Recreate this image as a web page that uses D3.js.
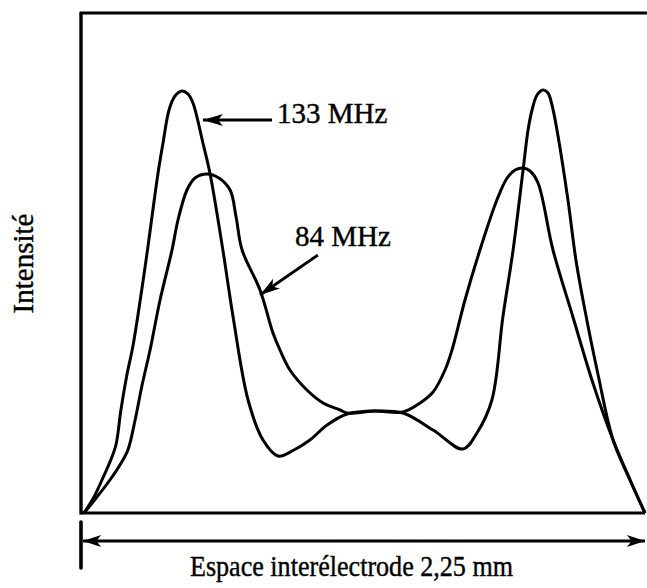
<!DOCTYPE html>
<html>
<head>
<meta charset="utf-8">
<script src="https://cdn.jsdelivr.net/npm/d3@7"></script>
<style>
  html, body { margin: 0; padding: 0; background: #fff; }
  svg { display: block; }
  text { font-family: "Liberation Serif", "Times New Roman", serif; fill: #000; }
</style>
</head>
<body>
<svg id="chart" width="647" height="588"></svg>
<script>
// Position across the gap (mm) and relative intensity for each drive frequency
const pos133 = [0, 0.040, 0.072, 0.104, 0.128, 0.148, 0.172, 0.197, 0.245, 0.297, 0.317, 0.341, 0.365,
  0.393, 0.417, 0.437, 0.477, 0.505, 0.557, 0.598, 0.658, 0.718, 0.778, 0.842, 0.906, 0.975, 1.055,
  1.167, 1.279, 1.400, 1.520, 1.576, 1.636, 1.680, 1.721, 1.761, 1.781, 1.797, 1.817, 1.841, 1.861,
  1.877, 1.897, 1.941, 1.973, 2.009, 2.062, 2.122, 2.190, 2.25];
const int133 = [0, 0.032, 0.066, 0.102, 0.136, 0.206, 0.276, 0.336, 0.492, 0.680, 0.740, 0.806, 0.834,
  0.844, 0.838, 0.820, 0.740, 0.680, 0.526, 0.392, 0.226, 0.146, 0.114, 0.126, 0.146, 0.176, 0.198,
  0.204, 0.200, 0.166, 0.128, 0.160, 0.226, 0.392, 0.526, 0.686, 0.766, 0.806, 0.836, 0.846, 0.840,
  0.816, 0.766, 0.626, 0.506, 0.406, 0.276, 0.146, 0.066, 0];

const pos84 = [0, 0.052, 0.104, 0.144, 0.176, 0.205, 0.233, 0.265, 0.305, 0.353, 0.377, 0.413, 0.445,
  0.493, 0.541, 0.586, 0.610, 0.634, 0.706, 0.758, 0.786, 0.826, 0.894, 0.959, 1.027, 1.055, 1.167,
  1.279, 1.348, 1.400, 1.448, 1.476, 1.528, 1.588, 1.656, 1.697, 1.729, 1.761, 1.789, 1.821, 1.881,
  1.961, 2.041, 2.122, 2.190, 2.25];
const int84 = [0, 0.032, 0.066, 0.096, 0.126, 0.186, 0.256, 0.326, 0.426, 0.526, 0.586, 0.646, 0.670,
  0.678, 0.670, 0.646, 0.592, 0.526, 0.446, 0.360, 0.326, 0.286, 0.246, 0.220, 0.206, 0.200, 0.204,
  0.202, 0.220, 0.242, 0.286, 0.326, 0.426, 0.526, 0.626, 0.670, 0.686, 0.690, 0.684, 0.660, 0.526,
  0.392, 0.260, 0.146, 0.066, 0];

const seriesNames = ["133 MHz", "84 MHz"];
const gapLabel = "Espace interélectrode 2,25 mm";
const yLabel = "Intensité";

const svg = d3.select("#chart");
const x = d3.scaleLinear().domain([0, 2.25]).range([84, 645]);
const y = d3.scaleLinear().domain([0, 1]).range([513, 13]);

// arrowhead markers
const defs = svg.append("defs");
function head(id, len, half) {
  defs.append("marker")
    .attr("id", id)
    .attr("markerUnits", "userSpaceOnUse")
    .attr("markerWidth", len + 2).attr("markerHeight", half * 2 + 2)
    .attr("refX", len).attr("refY", half + 1)
    .attr("orient", "auto-start-reverse")
    .append("path")
    .attr("d", `M0,1 L${len},${half + 1} L0,${half * 2 + 1} L${len * 0.25},${half + 1} Z`)
    .attr("fill", "#000");
}
head("headA", 20, 6);
head("headB", 18, 6);

// frame: left, top and bottom edges
const frame = svg.append("g").attr("stroke", "#000").attr("fill", "none");
frame.append("line").attr("x1", x(0) - 3).attr("x2", x(0) - 3).attr("y1", y(1)).attr("y2", y(0) + 1.5).attr("stroke-width", 3.4);
frame.append("line").attr("x1", x(0) - 4.5).attr("x2", 647).attr("y1", y(1)).attr("y2", y(1)).attr("stroke-width", 3.2);
frame.append("line").attr("x1", x(0) - 3).attr("x2", x(2.25)).attr("y1", y(0)).attr("y2", y(0)).attr("stroke-width", 3.2);

// intensity profiles
const line = d3.line().curve(d3.curveCatmullRom.alpha(0.5));
const profiles = [
  pos133.map((p, i) => [x(p), y(int133[i])]),
  pos84.map((p, i) => [x(p), y(int84[i])])
];
svg.append("g").selectAll("path").data(profiles).join("path")
  .attr("d", line)
  .attr("fill", "none")
  .attr("stroke", "#000")
  .attr("stroke-width", 3)
  .attr("stroke-linejoin", "round");

// labels with pointing arrows
const notes = [
  { text: seriesNames[0], tx: 0.774, ty: 0.780, from: [0.754, 0.786], to: [0.477, 0.786] },
  { text: seriesNames[1], tx: 0.846, ty: 0.534, from: [0.938, 0.516], to: [0.706, 0.436] }
];
notes.forEach(n => {
  svg.append("line")
    .attr("x1", x(n.from[0])).attr("y1", y(n.from[1]))
    .attr("x2", x(n.to[0])).attr("y2", y(n.to[1]))
    .attr("stroke", "#000").attr("stroke-width", 2.8)
    .attr("marker-end", "url(#headA)");
  svg.append("text")
    .attr("x", x(n.tx)).attr("y", y(n.ty))
    .attr("font-size", 29)
    .attr("stroke", "#000").attr("stroke-width", 0.4)
    .text(n.text);
});

// gap span arrow beneath the plot
svg.append("line")
  .attr("x1", x(0) - 1).attr("x2", x(2.25))
  .attr("y1", 541).attr("y2", 541)
  .attr("stroke", "#000").attr("stroke-width", 3.2)
  .attr("marker-start", "url(#headB)")
  .attr("marker-end", "url(#headB)");
svg.append("line")
  .attr("x1", x(0) - 3).attr("x2", x(0) - 3)
  .attr("y1", 522).attr("y2", 568)
  .attr("stroke", "#000").attr("stroke-width", 3.6)
  .attr("stroke-linecap", "round");

svg.append("text")
  .attr("x", 190).attr("y", 576)
  .attr("font-size", 29)
  .attr("textLength", 323)
  .attr("lengthAdjust", "spacingAndGlyphs")
  .attr("stroke", "#000").attr("stroke-width", 0.4)
  .text(gapLabel);

svg.append("text")
  .attr("transform", "translate(33,263.5) rotate(-90)")
  .attr("text-anchor", "middle")
  .attr("font-size", 29)
  .attr("stroke", "#000").attr("stroke-width", 0.4)
  .text(yLabel);
</script>
</body>
</html>
